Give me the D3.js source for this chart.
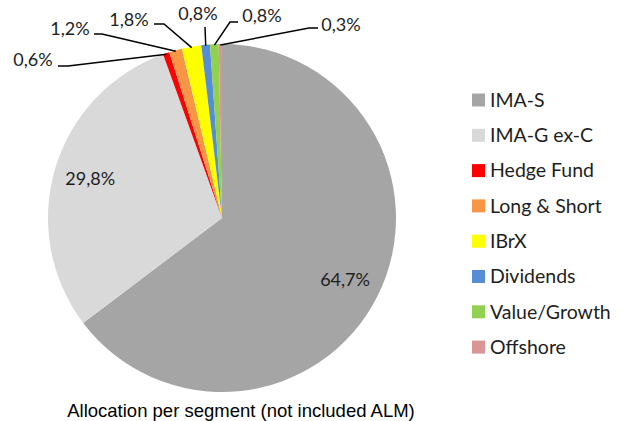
<!DOCTYPE html>
<html>
<head>
<meta charset="utf-8">
<script src="https://cdn.jsdelivr.net/npm/d3@7"></script>
<style>
body { margin: 0; background: #fff; }
text { font-family: Lato, "Open Sans", sans-serif; fill: #1e1e1e; }
</style>
</head>
<body>
<div id="chart"></div>
<script>
const w = 623;
const h = 421;

// Data
const segments = ["IMA-S", "IMA-G ex-C", "Hedge Fund", "Long & Short", "IBrX", "Dividends", "Value/Growth", "Offshore"];
const shares = [64.7, 29.8, 0.6, 1.2, 1.8, 0.8, 0.8, 0.3];
const labels = ["64,7%", "29,8%", "0,6%", "1,2%", "1,8%", "0,8%", "0,8%", "0,3%"];
const colors = ["#a5a5a5", "#d9d9d9", "#ff0000", "#f79646", "#ffff00", "#558ed5", "#92d050", "#d99694"];

// where the outside labels sit (text centre) and where the leader elbow is
const calloutPos = {
  2: {tx: 33, ty: 60, ex: 68, ey: 66, anchorX: 58},
  3: {tx: 70, ty: 29, ex: 102, ey: 34, anchorX: 94},
  4: {tx: 129, ty: 20, ex: 164, ey: 24, anchorX: 154},
  5: {tx: 198, ty: 14, ex: 205, ey: 27, anchorX: 205},
  6: {tx: 262, ty: 16, ex: 230, ey: 22, anchorX: 238},
  7: {tx: 341, ty: 25, ex: 309, ey: 28, anchorX: 318}
};

const cx = 222, cy = 218, R = 174;

const svg = d3.select("#chart")
  .append("svg")
  .attr("width", w)
  .attr("height", h);

const pie = d3.pie().sort(null).value(d => d)(shares);
const arc = d3.arc().innerRadius(0).outerRadius(R);
const labelArc = d3.arc().innerRadius(R * 0.79).outerRadius(R * 0.79);
const edgeArc = d3.arc().innerRadius(R - 1).outerRadius(R - 1);

const g = svg.append("g").attr("transform", `translate(${cx},${cy})`);

g.selectAll("path.slice")
  .data(pie)
  .enter()
  .append("path")
  .attr("class", "slice")
  .attr("d", arc)
  .attr("fill", (d, i) => colors[i]);

// inside labels for the two big slices
g.selectAll("text.inlabel")
  .data(pie.slice(0, 2))
  .enter()
  .append("text")
  .attr("class", "inlabel")
  .attr("transform", d => `translate(${labelArc.centroid(d)})`)
  .attr("text-anchor", "middle")
  .attr("dy", "0.35em")
  .style("font-size", "18px")
  .text((d, i) => labels[i]);

// callouts for small slices
pie.forEach((d, i) => {
  const p = calloutPos[i];
  if (!p) return;
  const [px, py] = edgeArc.centroid(d);
  const pts = [[p.anchorX, p.ey], [p.ex, p.ey], [px + cx, py + cy]];
  svg.append("path")
    .attr("d", d3.line()(pts))
    .attr("fill", "none")
    .attr("stroke", "#000")
    .attr("stroke-width", 1.5);
  svg.append("text")
    .attr("x", p.tx)
    .attr("y", p.ty)
    .attr("text-anchor", "middle")
    .attr("dy", "0.35em")
    .style("font-size", "18px")
    .text(labels[i]);
});

// Legend
const legend = svg.append("g").attr("transform", "translate(472,100)");
const rowH = 35.3;
segments.forEach((s, i) => {
  const row = legend.append("g").attr("transform", `translate(0,${i * rowH})`);
  row.append("rect")
    .attr("x", 0).attr("y", -6.5)
    .attr("width", 13).attr("height", 13)
    .attr("fill", colors[i]);
  row.append("text")
    .attr("x", 18)
    .attr("dy", "0.35em")
    .style("font-size", "19.5px")
    .text(s);
});

// Title
svg.append("text")
  .attr("x", 241)
  .attr("y", 417)
  .attr("text-anchor", "middle")
  .style("font-family", "'Liberation Sans', Arial, sans-serif")
  .style("font-size", "18.5px")
  .style("fill", "#000")
  .text("Allocation per segment (not included ALM)");
</script>
</body>
</html>
